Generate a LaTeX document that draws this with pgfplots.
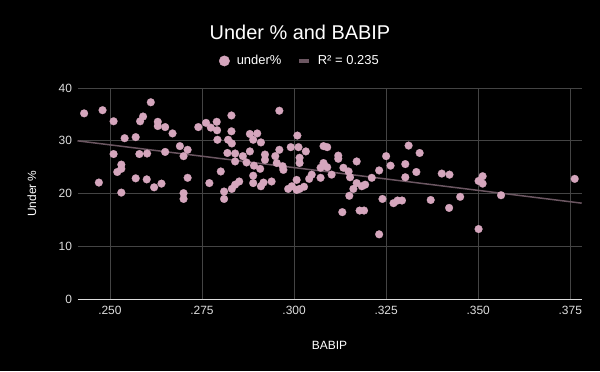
\documentclass[border=0pt]{standalone}
\usepackage{pgfplots}
\pgfplotsset{compat=1.18}
\usepackage{fontspec}
\setmainfont{Liberation Sans}
\definecolor{ptpink}{HTML}{D5A6BD}
\definecolor{trend}{HTML}{6B5661}
\definecolor{gridc}{HTML}{444444}
\definecolor{tickc}{HTML}{DDDDDD}
\begin{document}
\begin{tikzpicture}[x=1bp,y=1bp]
\fill[black] (0,0) rectangle (600,371);
\node[text=white,font=\fontsize{20}{22}\selectfont] at (300,339) {Under \% and BABIP};
\begin{axis}[
  at={(77.5bp,71.7bp)}, anchor=south west,
  scale only axis, width=504.2bp, height=211.3bp,
  xmin=0.2412, xmax=0.3781, ymin=0, ymax=40,
  xtick={0.25,0.275,0.3,0.325,0.35,0.375},
  xticklabels={.250,.275,.300,.325,.350,.375},
  ytick={0,10,20,30,40},
  /pgf/number format/assume math mode=true,
  tick label style={font=\fontsize{12}{14}\selectfont, text=tickc},
  xticklabel style={yshift=-3bp},
  yticklabel style={xshift=-2bp},
  major tick length=0pt,
  grid=major, major grid style={gridc, line width=0.8pt},
  axis lines*=left,
  x axis line style={draw=tickc, line width=0.8pt, -},
  y axis line style={draw=none},
  xlabel={BABIP}, ylabel={Under \%},
  label style={font=\fontsize{12}{14}\selectfont, text=white},
  x label style={at={(axis description cs:0.5,-0.216)}, anchor=center},
  y label style={at={(axis description cs:-0.0903,0.5)}, anchor=center, rotate=0},
  legend columns=2,
  legend style={at={(axis description cs:0.441,1.128)}, anchor=center, draw=none, fill=black, text=white,
    font=\fontsize{13}{15}\selectfont,
    /tikz/every odd column/.append style={column sep=5bp},
    /tikz/every even column/.append style={column sep=14bp}},
  clip=false,
]
\addplot[only marks, color=ptpink, mark=*, mark size=3.9bp, mark options={solid, fill=ptpink, draw=ptpink, line width=0.2pt},
  legend image code/.code={\fill[ptpink] (0bp,0bp) circle (5.2bp);}] table {
x y
0.2430 35.2
0.2480 35.8
0.2510 33.7
0.2611 37.3
0.2590 34.6
0.2582 33.7
0.2630 33.6
0.2630 32.8
0.2650 32.6
0.2670 31.4
0.2740 32.6
0.2540 30.5
0.2570 30.7
0.2510 27.5
0.2580 27.5
0.2601 27.6
0.2650 27.9
0.2690 29.0
0.2711 28.3
0.2700 27.1
0.2531 25.5
0.2531 24.7
0.2520 24.1
0.2470 22.1
0.2570 22.9
0.2600 22.7
0.2620 21.2
0.2640 21.9
0.2711 23.0
0.2531 20.2
0.2700 20.1
0.2700 19.0
0.2761 33.4
0.2774 32.5
0.2790 33.6
0.2791 32.0
0.2830 34.8
0.2960 35.7
0.2830 31.8
0.2792 30.2
0.2821 30.2
0.2831 29.5
0.2880 31.3
0.2900 31.4
0.2889 30.2
0.2910 29.7
0.2819 27.7
0.2840 27.6
0.2840 26.1
0.2861 27.1
0.2880 28.0
0.2871 25.9
0.2891 25.3
0.2908 24.7
0.2921 27.4
0.2921 26.4
0.2949 27.1
0.2960 28.3
0.2953 25.8
0.2969 25.2
0.2971 24.5
0.2991 28.8
0.3009 31.0
0.2801 24.2
0.2770 22.0
0.2810 20.4
0.2810 19.0
0.2831 20.9
0.2840 21.7
0.2851 22.3
0.2889 23.4
0.2889 22.0
0.2910 21.4
0.2917 22.1
0.2939 22.3
0.2984 20.9
0.2994 21.4
0.3007 22.6
0.3007 20.7
0.3012 28.8
0.3032 28.0
0.3080 29.0
0.3090 28.8
0.3015 26.8
0.3015 25.8
0.3120 27.2
0.3120 26.6
0.3170 26.1
0.3250 27.1
0.3262 25.3
0.3080 25.8
0.3072 24.9
0.3090 25.0
0.3048 23.6
0.3041 22.8
0.3072 23.0
0.3102 23.6
0.3134 24.9
0.3148 24.2
0.3152 23.1
0.3170 22.0
0.3184 21.4
0.3193 21.7
0.3161 20.9
0.3211 23.0
0.3231 24.4
0.3027 21.3
0.3015 20.9
0.3150 19.6
0.3240 19.0
0.3131 16.5
0.3178 16.8
0.3190 16.8
0.3231 12.3
0.3311 29.1
0.3341 27.7
0.3302 25.6
0.3332 24.1
0.3302 23.1
0.3401 23.8
0.3422 23.6
0.3501 22.4
0.3512 23.3
0.3512 21.9
0.3562 19.7
0.3762 22.8
0.3270 18.2
0.3281 18.7
0.3293 18.7
0.3371 18.8
0.3421 17.3
0.3451 19.4
0.3501 13.3
};
\addlegendentry{under\%}
\addplot[trend, line width=1.5pt,
  legend image code/.code={\draw[trend, line width=3.5pt] (-5bp,0bp) -- (5bp,0bp);}] coordinates {
(0.2412,30.0) (0.3781,18.2)
};
\addlegendentry{R² = 0.235}
\end{axis}
\end{tikzpicture}
\end{document}
